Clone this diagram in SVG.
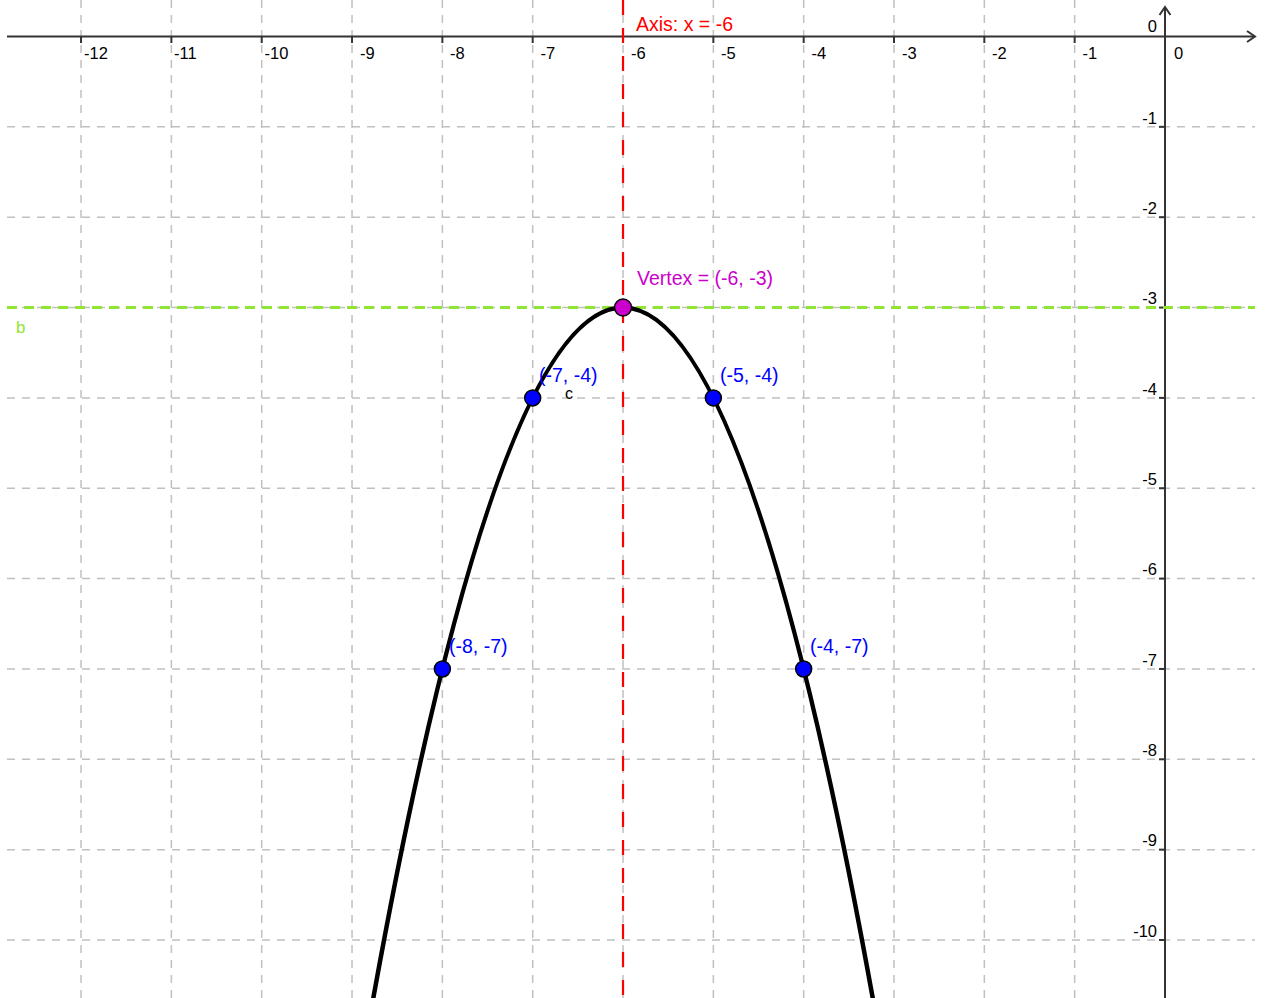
<svg xmlns="http://www.w3.org/2000/svg" width="1265" height="998" viewBox="0 0 1265 998">
<style>
.grid{stroke:#c0c0c0;stroke-width:1.5;stroke-dasharray:8 7;fill:none}
.axis{stroke:#333;stroke-width:2;fill:none}
.tick{stroke:#333;stroke-width:2}
.tl{font-family:"Liberation Sans",Arial,sans-serif;font-size:16.5px;fill:#000}
.tr{font-family:"Liberation Sans",Arial,sans-serif;font-size:16.5px;fill:#000;text-anchor:end}
.lbl{font-family:"Liberation Sans",Arial,sans-serif;font-size:19.5px}
.pt{fill:#0000ff;stroke:#000;stroke-width:1.5}
</style>
<rect width="1265" height="998" fill="#fff"/>
<g id="grid">
<g class="grid">
<line x1="81.04" y1="0" x2="81.04" y2="998"/>
<line x1="171.37" y1="0" x2="171.37" y2="998"/>
<line x1="261.7" y1="0" x2="261.7" y2="998"/>
<line x1="352.03" y1="0" x2="352.03" y2="998"/>
<line x1="442.36" y1="0" x2="442.36" y2="998"/>
<line x1="532.69" y1="0" x2="532.69" y2="998"/>
<line x1="623.02" y1="0" x2="623.02" y2="998"/>
<line x1="713.35" y1="0" x2="713.35" y2="998"/>
<line x1="803.68" y1="0" x2="803.68" y2="998"/>
<line x1="894.01" y1="0" x2="894.01" y2="998"/>
<line x1="984.34" y1="0" x2="984.34" y2="998"/>
<line x1="1074.67" y1="0" x2="1074.67" y2="998"/>
<line x1="7" y1="126.85" x2="1255" y2="126.85"/>
<line x1="7" y1="217.2" x2="1255" y2="217.2"/>
<line x1="7" y1="307.55" x2="1255" y2="307.55"/>
<line x1="7" y1="397.9" x2="1255" y2="397.9"/>
<line x1="7" y1="488.25" x2="1255" y2="488.25"/>
<line x1="7" y1="578.6" x2="1255" y2="578.6"/>
<line x1="7" y1="668.95" x2="1255" y2="668.95"/>
<line x1="7" y1="759.3" x2="1255" y2="759.3"/>
<line x1="7" y1="849.65" x2="1255" y2="849.65"/>
<line x1="7" y1="940" x2="1255" y2="940"/>
</g>
</g>
<g id="axes">
<line class="axis" x1="7" y1="36.5" x2="1255" y2="36.5"/>
<polyline class="axis" points="1247,31 1255,36.5 1247,42"/>
<line class="axis" x1="1165" y1="998" x2="1165" y2="7"/>
<polyline class="axis" points="1159.5,15 1165,7 1170.5,15"/>
<g class="tick">
<line x1="81.04" y1="36.5" x2="81.04" y2="43"/>
<line x1="171.37" y1="36.5" x2="171.37" y2="43"/>
<line x1="261.7" y1="36.5" x2="261.7" y2="43"/>
<line x1="352.03" y1="36.5" x2="352.03" y2="43"/>
<line x1="442.36" y1="36.5" x2="442.36" y2="43"/>
<line x1="532.69" y1="36.5" x2="532.69" y2="43"/>
<line x1="623.02" y1="36.5" x2="623.02" y2="43"/>
<line x1="713.35" y1="36.5" x2="713.35" y2="43"/>
<line x1="803.68" y1="36.5" x2="803.68" y2="43"/>
<line x1="894.01" y1="36.5" x2="894.01" y2="43"/>
<line x1="984.34" y1="36.5" x2="984.34" y2="43"/>
<line x1="1074.67" y1="36.5" x2="1074.67" y2="43"/>
<line x1="1159" y1="126.85" x2="1165" y2="126.85"/>
<line x1="1159" y1="217.2" x2="1165" y2="217.2"/>
<line x1="1159" y1="307.55" x2="1165" y2="307.55"/>
<line x1="1159" y1="397.9" x2="1165" y2="397.9"/>
<line x1="1159" y1="488.25" x2="1165" y2="488.25"/>
<line x1="1159" y1="578.6" x2="1165" y2="578.6"/>
<line x1="1159" y1="668.95" x2="1165" y2="668.95"/>
<line x1="1159" y1="759.3" x2="1165" y2="759.3"/>
<line x1="1159" y1="849.65" x2="1165" y2="849.65"/>
<line x1="1159" y1="940" x2="1165" y2="940"/>
</g>
<g>
<text class="tl" x="84" y="59">-12</text>
<text class="tl" x="174" y="59">-11</text>
<text class="tl" x="264.5" y="59">-10</text>
<text class="tl" x="360" y="59">-9</text>
<text class="tl" x="450" y="59">-8</text>
<text class="tl" x="540.5" y="59">-7</text>
<text class="tl" x="631" y="59">-6</text>
<text class="tl" x="721" y="59">-5</text>
<text class="tl" x="811.5" y="59">-4</text>
<text class="tl" x="902" y="59">-3</text>
<text class="tl" x="992" y="59">-2</text>
<text class="tl" x="1082.5" y="59">-1</text>
<text class="tl" x="1174" y="59">0</text>
<text class="tr" x="1157" y="32">0</text>
<text class="tr" x="1157" y="123.5">-1</text>
<text class="tr" x="1157" y="214">-2</text>
<text class="tr" x="1157" y="304">-3</text>
<text class="tr" x="1157" y="394.5">-4</text>
<text class="tr" x="1157" y="485">-5</text>
<text class="tr" x="1157" y="575">-6</text>
<text class="tr" x="1157" y="665.5">-7</text>
<text class="tr" x="1157" y="756">-8</text>
<text class="tr" x="1157" y="846">-9</text>
<text class="tr" x="1157" y="936.5">-10</text>
</g>
</g>
<g id="axis-of-symmetry">
<line x1="623.02" y1="0" x2="623.02" y2="998" stroke="#ff0000" stroke-width="2.2" stroke-dasharray="15 13"/>
<text class="lbl" x="636" y="31" fill="#ff0000">Axis: x = -6</text>
</g>
<g id="line-b">
<line x1="7" y1="307.55" x2="1255" y2="307.55" stroke="#8fe533" stroke-width="3" stroke-dasharray="10 7"/>
<text class="lbl" x="16" y="333" fill="#8fe533" style="font-size:17px">b</text>
</g>
<g id="parabola-c">
<path d="M370.1,1015.9 Q623.02,-400.8 875.94,1015.9" fill="none" stroke="#000" stroke-width="4.5"/>
<text class="lbl" x="565" y="399" fill="#000" style="font-size:16px">c</text>
</g>
<g id="point-m8">
<circle class="pt" cx="442.36" cy="668.95" r="8"/>
<text class="lbl" x="449" y="653" fill="#0000ff">(-8, -7)</text>
</g>
<g id="point-m7">
<circle class="pt" cx="532.69" cy="397.9" r="8"/>
<text class="lbl" x="539" y="382" fill="#0000ff">(-7, -4)</text>
</g>
<g id="point-m5">
<circle class="pt" cx="713.35" cy="397.9" r="8"/>
<text class="lbl" x="720" y="382" fill="#0000ff">(-5, -4)</text>
</g>
<g id="point-m4">
<circle class="pt" cx="803.68" cy="668.95" r="8"/>
<text class="lbl" x="810" y="653" fill="#0000ff">(-4, -7)</text>
</g>
<g id="vertex">
<circle cx="623.02" cy="307.55" r="8.5" fill="#cc00cc" stroke="#000" stroke-width="1.5"/>
<text class="lbl" x="637" y="285" fill="#cc00cc">Vertex = (-6, -3)</text>
</g>
</svg>
